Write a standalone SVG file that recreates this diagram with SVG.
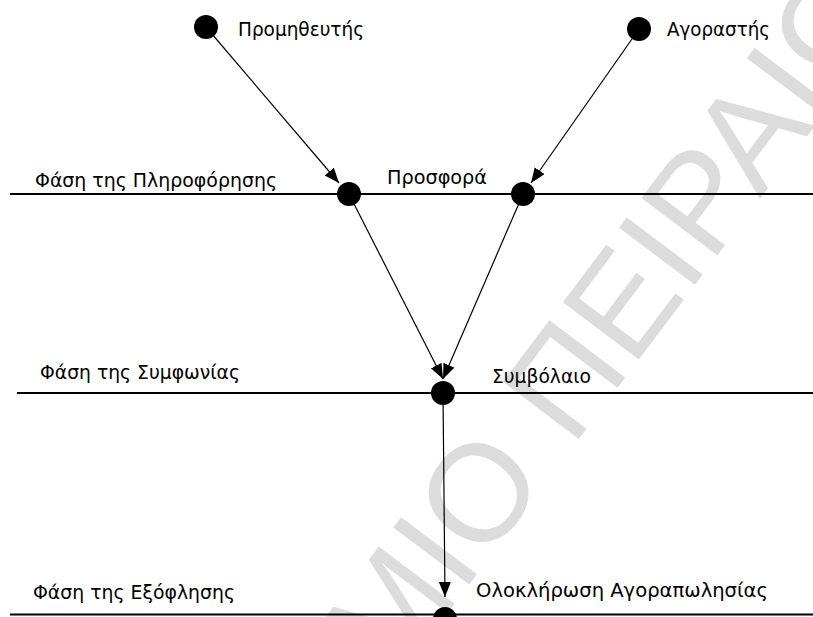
<svg xmlns="http://www.w3.org/2000/svg" width="813" height="617" viewBox="0 0 813 617">
  <style>
    .phase { stroke: #000; stroke-width: 2; }
    .conn { stroke: #000; stroke-width: 1.2; fill: none; marker-end: url(#arrow); }
    .dot { fill: #000; }
    .lbl { font-family: "DejaVu Sans", "Liberation Sans", sans-serif; font-size: 20px; fill: #000; }
    .wm { font-family: "Liberation Sans", Arial, sans-serif; font-size: 138px; fill: #dcdcdc; }
  </style>
  <defs>
    <marker id="arrow" markerUnits="userSpaceOnUse" markerWidth="16" markerHeight="13" refX="15" refY="6" orient="auto">
      <path d="M0,0 L15,6 L0,12 z" fill="#000"/>
    </marker>
  </defs>

  <rect width="813" height="617" fill="#fff"/>

  <!-- background watermark -->
  <g id="watermark" transform="translate(572,448) rotate(-53)">
    <text class="wm" x="-38" y="0" text-anchor="end">ΠΑΝΕΠΙΣΤΗΜΙΟ</text>
    <text class="wm" x="0" y="0">ΠΕΙΡΑΙΩΣ</text>
  </g>

  <!-- phase lines -->
  <g id="phases">
    <line class="phase" x1="10" y1="194" x2="813" y2="194"/>
    <line class="phase" x1="17" y1="393" x2="813" y2="393"/>
    <line class="phase" x1="10" y1="614.5" x2="813" y2="614.5"/>
    <text class="lbl" x="35" y="187" textLength="242" lengthAdjust="spacingAndGlyphs">Φάση της Πληροφόρησης</text>
    <text class="lbl" x="40" y="379" textLength="200" lengthAdjust="spacingAndGlyphs">Φάση της Συμφωνίας</text>
    <text class="lbl" x="33" y="599" textLength="202" lengthAdjust="spacingAndGlyphs">Φάση της Εξόφλησης</text>
  </g>

  <!-- connectors -->
  <g id="connectors">
    <line class="conn" x1="206" y1="27" x2="339" y2="183"/>
    <line class="conn" x1="639" y1="29" x2="531" y2="183"/>
    <line class="conn" x1="349" y1="194" x2="443" y2="379"/>
    <line class="conn" x1="523" y1="194" x2="443" y2="379"/>
    <line class="conn" x1="443" y1="394" x2="445" y2="597"/>
  </g>

  <!-- nodes -->
  <g id="supplier">
    <circle class="dot" cx="206" cy="27" r="12"/>
    <text class="lbl" x="238" y="36" textLength="126" lengthAdjust="spacingAndGlyphs">Προμηθευτής</text>
  </g>
  <g id="buyer">
    <circle class="dot" cx="639" cy="29" r="12"/>
    <text class="lbl" x="667" y="36" textLength="103" lengthAdjust="spacingAndGlyphs">Αγοραστής</text>
  </g>
  <g id="offer">
    <circle class="dot" cx="349" cy="194" r="12"/>
    <circle class="dot" cx="523" cy="194" r="12"/>
    <text class="lbl" x="387" y="184" textLength="100" lengthAdjust="spacingAndGlyphs">Προσφορά</text>
  </g>
  <g id="contract">
    <circle class="dot" cx="443" cy="393" r="12"/>
    <text class="lbl" x="492" y="383" textLength="99" lengthAdjust="spacingAndGlyphs">Συμβόλαιο</text>
  </g>
  <g id="completion">
    <circle class="dot" cx="445" cy="619" r="12"/>
    <text class="lbl" x="476" y="597" textLength="292" lengthAdjust="spacingAndGlyphs">Ολοκλήρωση Αγοραπωλησίας</text>
  </g>
</svg>
